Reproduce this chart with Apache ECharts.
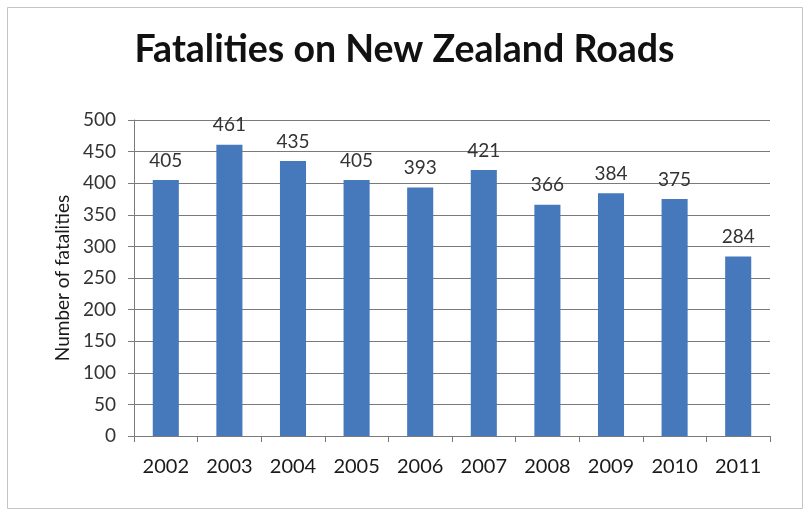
<!DOCTYPE html>
<html>
<head>
<meta charset="utf-8">
<script src="https://cdn.jsdelivr.net/npm/echarts@6/dist/echarts.min.js"></script>
<style>
  html, body { margin: 0; padding: 0; background: #ffffff; }
  #chart { width: 809px; height: 514px; }
</style>
</head>
<body>
<div id="chart"></div>
<script>
// Road fatalities in New Zealand by year
const years = ['2002', '2003', '2004', '2005', '2006', '2007', '2008', '2009', '2010', '2011'];
const fatalities = [405, 461, 435, 405, 393, 421, 366, 384, 375, 284];
const titleText = 'Fatalities on New Zealand Roads';
const yAxisName = 'Number of fatalities';

const chart = echarts.init(document.getElementById('chart'), null, { renderer: 'canvas' });

const face = 'Lato, "Liberation Sans", Arial, sans-serif';
const gridColor = '#7a7a7a';

chart.setOption({
  backgroundColor: '#ffffff',
  animation: false,
  graphic: [{
    type: 'rect',
    shape: { x: 7.5, y: 7.5, width: 795, height: 501 },
    style: { fill: 'none', stroke: '#c4c4c4', lineWidth: 1 },
    silent: true
  }],
  title: {
    text: titleText,
    left: 'center',
    top: 26,
    textStyle: {
      fontFamily: face,
      fontWeight: 'bold',
      fontSize: 37.5,
      color: '#111111'
    }
  },
  grid: { left: 134, right: 39, top: 120, bottom: 78 },
  xAxis: {
    type: 'category',
    data: years,
    axisLine: { show: true, lineStyle: { color: gridColor, width: 1 } },
    axisTick: { show: true, alignWithLabel: false, length: 6, lineStyle: { color: gridColor } },
    axisLabel: {
      fontFamily: face,
      fontSize: 20,
      color: '#1a1a1a',
      margin: 21
    }
  },
  yAxis: {
    type: 'value',
    min: 0,
    max: 500,
    interval: 50,
    name: yAxisName,
    nameLocation: 'middle',
    nameGap: 56,
    nameTextStyle: { fontFamily: face, fontSize: 19, color: '#1a1a1a' },
    axisLine: { show: true, lineStyle: { color: gridColor, width: 1 } },
    axisTick: { show: true, length: 6, lineStyle: { color: gridColor } },
    splitLine: { show: true, lineStyle: { color: gridColor, width: 1 } },
    axisLabel: {
      fontFamily: face,
      fontSize: 19,
      color: '#333333',
      margin: 18
    }
  },
  series: [{
    type: 'bar',
    data: fatalities,
    barWidth: '41%',
    itemStyle: { color: '#4579bb' },
    label: {
      show: true,
      position: 'top',
      distance: 10,
      fontFamily: face,
      fontSize: 19,
      color: '#333333'
    }
  }]
});
</script>
</body>
</html>
